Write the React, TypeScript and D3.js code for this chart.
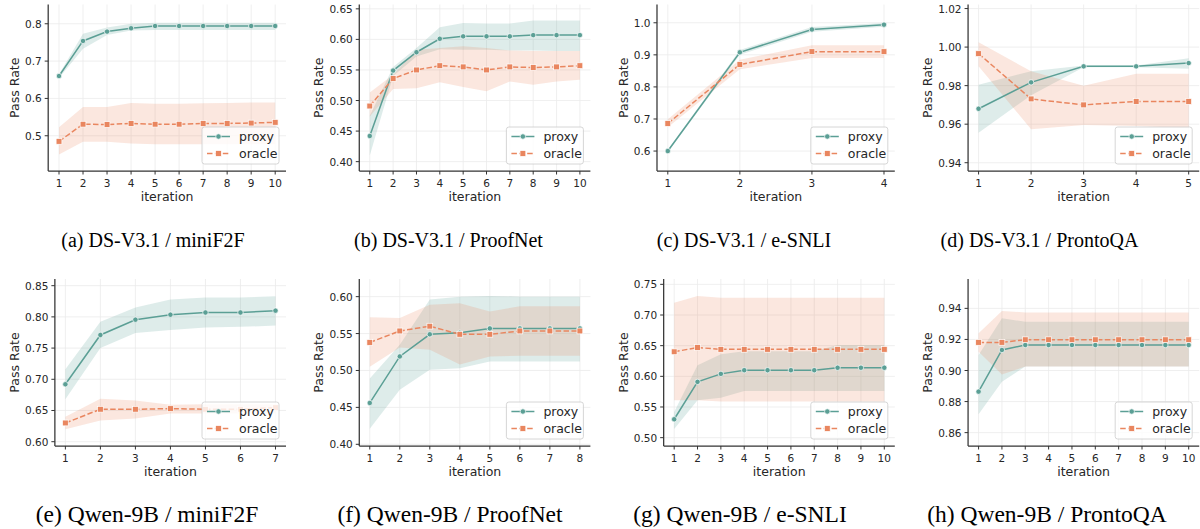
import React from 'react';
import * as d3 from 'd3';

const TEAL = '#5b9f95';
const ORANGE = '#e9865f';

// (a) DS-V3.1 / miniF2F
const aIter = [1, 2, 3, 4, 5, 6, 7, 8, 9, 10];
const aProxy = [0.660, 0.754, 0.779, 0.788, 0.794, 0.794, 0.794, 0.794, 0.794, 0.794];
const aProxyLo = [0.655, 0.733, 0.770, 0.782, 0.783, 0.783, 0.783, 0.783, 0.783, 0.783];
const aProxyHi = [0.665, 0.773, 0.790, 0.800, 0.803, 0.803, 0.803, 0.803, 0.803, 0.803];
const aOracle = [0.485, 0.531, 0.530, 0.533, 0.531, 0.531, 0.533, 0.533, 0.534, 0.536];
const aOracleLo = [0.450, 0.484, 0.484, 0.479, 0.477, 0.477, 0.477, 0.477, 0.477, 0.477];
const aOracleHi = [0.523, 0.577, 0.577, 0.588, 0.586, 0.586, 0.587, 0.588, 0.589, 0.589];
const aYLim = [0.4056, 0.8516];
const aYTicks = [0.5, 0.6, 0.7, 0.8];

// (b) DS-V3.1 / ProofNet
const bIter = [1, 2, 3, 4, 5, 6, 7, 8, 9, 10];
const bProxy = [0.442, 0.549, 0.579, 0.601, 0.605, 0.605, 0.605, 0.607, 0.607, 0.607];
const bProxyLo = [0.410, 0.540, 0.572, 0.584, 0.583, 0.583, 0.582, 0.582, 0.581, 0.581];
const bProxyHi = [0.475, 0.555, 0.586, 0.620, 0.627, 0.626, 0.626, 0.631, 0.631, 0.631];
const bOracle = [0.491, 0.536, 0.550, 0.557, 0.555, 0.550, 0.555, 0.554, 0.555, 0.557];
const bOracleLo = [0.474, 0.519, 0.520, 0.530, 0.522, 0.515, 0.531, 0.526, 0.531, 0.534];
const bOracleHi = [0.513, 0.542, 0.583, 0.586, 0.589, 0.586, 0.582, 0.581, 0.581, 0.581];
const bYLim = [0.3847, 0.6571];
const bYTicks = [0.40, 0.45, 0.50, 0.55, 0.60, 0.65];

// (c) DS-V3.1 / e-SNLI
const cIter = [1, 2, 3, 4];
const cProxy = [0.600, 0.908, 0.979, 0.994];
const cProxyLo = [0.596, 0.900, 0.972, 0.988];
const cProxyHi = [0.604, 0.915, 0.987, 0.999];
const cOracle = [0.686, 0.870, 0.910, 0.910];
const cOracleLo = [0.674, 0.855, 0.890, 0.890];
const cOracleHi = [0.699, 0.885, 0.930, 0.930];
const cYLim = [0.5378, 1.057];
const cYTicks = [0.6, 0.7, 0.8, 0.9, 1.0];

// (d) DS-V3.1 / ProntoQA
const dIter = [1, 2, 3, 4, 5];
const dProxy = [0.968, 0.9817, 0.990, 0.990, 0.9917];
const dProxyLo = [0.9556, 0.975, 0.9895, 0.9895, 0.9888];
const dProxyHi = [0.9804, 0.9875, 0.9905, 0.9905, 0.9942];
const dOracle = [0.9966, 0.9731, 0.970, 0.9718, 0.9718];
const dOracleLo = [0.990, 0.9574, 0.9596, 0.9591, 0.9579];
const dOracleHi = [1.0025, 0.9874, 0.980, 0.9862, 0.9862];
const dYLim = [0.9357, 1.0221];
const dYTicks = [0.94, 0.96, 0.98, 1.00, 1.02];

// (e) Qwen-9B / miniF2F
const eIter = [1, 2, 3, 4, 5, 6, 7];
const eProxy = [0.692, 0.771, 0.7955, 0.8035, 0.807, 0.807, 0.810];
const eProxyLo = [0.668, 0.750, 0.774, 0.779, 0.783, 0.784, 0.786];
const eProxyHi = [0.716, 0.792, 0.815, 0.828, 0.831, 0.831, 0.833];
const eOracle = [0.630, 0.652, 0.652, 0.653, 0.652, 0.652, 0.6545];
const eOracleLo = [0.620, 0.634, 0.637, 0.645, 0.645, 0.645, 0.645];
const eOracleHi = [0.640, 0.669, 0.666, 0.659, 0.660, 0.660, 0.660];
const eYLim = [0.5931, 0.8607];
const eYTicks = [0.60, 0.65, 0.70, 0.75, 0.80, 0.85];

// (f) Qwen-9B / ProofNet
const fIter = [1, 2, 3, 4, 5, 6, 7, 8];
const fProxy = [0.456, 0.519, 0.549, 0.551, 0.557, 0.557, 0.557, 0.557];
const fProxyLo = [0.421, 0.474, 0.501, 0.503, 0.512, 0.512, 0.512, 0.512];
const fProxyHi = [0.489, 0.535, 0.596, 0.600, 0.601, 0.600, 0.600, 0.600];
const fOracle = [0.538, 0.5535, 0.560, 0.549, 0.549, 0.5535, 0.5535, 0.5535];
const fOracleLo = [0.505, 0.531, 0.528, 0.508, 0.519, 0.520, 0.520, 0.520];
const fOracleHi = [0.572, 0.571, 0.589, 0.591, 0.580, 0.587, 0.587, 0.587];
const fYLim = [0.3977, 0.6239];
const fYTicks = [0.40, 0.45, 0.50, 0.55, 0.60];

// (g) Qwen-9B / e-SNLI
const gIter = [1, 2, 3, 4, 5, 6, 7, 8, 9, 10];
const gProxy = [0.530, 0.591, 0.604, 0.610, 0.610, 0.610, 0.610, 0.614, 0.614, 0.614];
const gProxyLo = [0.514, 0.561, 0.565, 0.576, 0.576, 0.576, 0.576, 0.576, 0.576, 0.576];
const gProxyHi = [0.542, 0.618, 0.636, 0.641, 0.641, 0.641, 0.641, 0.651, 0.651, 0.651];
const gOracle = [0.640, 0.647, 0.644, 0.644, 0.644, 0.644, 0.644, 0.644, 0.644, 0.644];
const gOracleLo = [0.561, 0.561, 0.559, 0.559, 0.559, 0.559, 0.559, 0.559, 0.559, 0.559];
const gOracleHi = [0.720, 0.731, 0.728, 0.728, 0.728, 0.728, 0.728, 0.728, 0.728, 0.728];
const gYLim = [0.4864, 0.7587];
const gYTicks = [0.50, 0.55, 0.60, 0.65, 0.70, 0.75];

// (h) Qwen-9B / ProntoQA
const hIter = [1, 2, 3, 4, 5, 6, 7, 8, 9, 10];
const hProxy = [0.8864, 0.9132, 0.9164, 0.9164, 0.9164, 0.9164, 0.9164, 0.9164, 0.9164, 0.9164];
const hProxyLo = [0.8718, 0.8928, 0.9025, 0.9025, 0.9025, 0.9025, 0.9025, 0.9025, 0.9025, 0.9025];
const hProxyHi = [0.910, 0.9336, 0.9314, 0.9314, 0.9314, 0.9314, 0.9314, 0.9314, 0.9314, 0.9314];
const hOracle = [0.9181, 0.9181, 0.9198, 0.9198, 0.9198, 0.9198, 0.9198, 0.9198, 0.9198, 0.9198];
const hOracleLo = [0.9121, 0.8975, 0.9025, 0.9025, 0.9025, 0.9025, 0.9025, 0.9025, 0.9025, 0.9025];
const hOracleHi = [0.9239, 0.9383, 0.9374, 0.9374, 0.9374, 0.9374, 0.9374, 0.9374, 0.9374, 0.9374];
const hYLim = [0.8514, 0.9589];
const hYTicks = [0.86, 0.88, 0.90, 0.92, 0.94];

const captions = [
  '(a) DS-V3.1 / miniF2F', '(b) DS-V3.1 / ProofNet', '(c) DS-V3.1 / e-SNLI', '(d) DS-V3.1 / ProntoQA',
  '(e) Qwen-9B / miniF2F', '(f) Qwen-9B / ProofNet', '(g) Qwen-9B / e-SNLI', '(h) Qwen-9B / ProntoQA',
];

const panels = [
  { iter: aIter, proxy: aProxy, proxyLo: aProxyLo, proxyHi: aProxyHi, oracle: aOracle, oracleLo: aOracleLo, oracleHi: aOracleHi, yLim: aYLim, yTicks: aYTicks, dec: 1 },
  { iter: bIter, proxy: bProxy, proxyLo: bProxyLo, proxyHi: bProxyHi, oracle: bOracle, oracleLo: bOracleLo, oracleHi: bOracleHi, yLim: bYLim, yTicks: bYTicks, dec: 2 },
  { iter: cIter, proxy: cProxy, proxyLo: cProxyLo, proxyHi: cProxyHi, oracle: cOracle, oracleLo: cOracleLo, oracleHi: cOracleHi, yLim: cYLim, yTicks: cYTicks, dec: 1 },
  { iter: dIter, proxy: dProxy, proxyLo: dProxyLo, proxyHi: dProxyHi, oracle: dOracle, oracleLo: dOracleLo, oracleHi: dOracleHi, yLim: dYLim, yTicks: dYTicks, dec: 2 },
  { iter: eIter, proxy: eProxy, proxyLo: eProxyLo, proxyHi: eProxyHi, oracle: eOracle, oracleLo: eOracleLo, oracleHi: eOracleHi, yLim: eYLim, yTicks: eYTicks, dec: 2 },
  { iter: fIter, proxy: fProxy, proxyLo: fProxyLo, proxyHi: fProxyHi, oracle: fOracle, oracleLo: fOracleLo, oracleHi: fOracleHi, yLim: fYLim, yTicks: fYTicks, dec: 2 },
  { iter: gIter, proxy: gProxy, proxyLo: gProxyLo, proxyHi: gProxyHi, oracle: gOracle, oracleLo: gOracleLo, oracleHi: gOracleHi, yLim: gYLim, yTicks: gYTicks, dec: 2 },
  { iter: hIter, proxy: hProxy, proxyLo: hProxyLo, proxyHi: hProxyHi, oracle: hOracle, oracleLo: hOracleLo, oracleHi: hOracleHi, yLim: hYLim, yTicks: hYTicks, dec: 2 },
];

const TICK_FS = 10.5;
const LABEL_FS = 12.5;
const SANS = '"DejaVu Sans", sans-serif';
const SERIF = '"Liberation Serif", "Times New Roman", serif';
const INK = '#262626';

// caption placement per row
const capX = [[153, 448.5, 744, 1039.5], [147, 450, 740, 1047]];
const capY = [247, 522];
const capFS = [20, 23.5];

// rough DejaVu Sans width of a tick label
function labelWidth(s: string) {
  let w = 0;
  for (const ch of s) w += ch === '.' ? 0.318 : 0.636;
  return w * TICK_FS;
}

function Chart({ p, idx }: { p: any; idx: number }) {
  const col = idx % 4;
  const row = Math.floor(idx / 4);
  const top = row === 0 ? 4.5 : 279;
  const bottom = row === 0 ? 171 : 446;
  const right = 286 + 304.4 * col;
  const fmt = d3.format(`.${p.dec}f`);
  const yLabels = p.yTicks.map(fmt);
  const tw = d3.max(yLabels.map(labelWidth)) as number;
  const left = right - 254.5 + tw;

  const n = p.iter.length;
  const pad = 0.05 * (n - 1);
  const x = d3.scaleLinear().domain([1 - pad, n + pad]).range([left, right]);
  const y = d3.scaleLinear().domain(p.yLim).range([bottom, top]);

  const band = (lo: number[], hi: number[]) =>
    d3.area<number>().x((d) => x(d)).y0((_, i) => y(lo[i])).y1((_, i) => y(hi[i]))(p.iter) || '';
  const line = (v: number[]) => d3.line<number>().x((d) => x(d)).y((_, i) => y(v[i]))(p.iter) || '';

  const lx = right - 7 - 77;
  const ly = bottom - 7 - 37;

  return (
    <g>
      {p.iter.map((t: number) => (
        <line key={'gx' + t} x1={x(t)} x2={x(t)} y1={top} y2={bottom} stroke="#ebebeb" strokeWidth={0.8} />
      ))}
      {p.yTicks.map((t: number) => (
        <line key={'gy' + t} x1={left} x2={right} y1={y(t)} y2={y(t)} stroke="#ebebeb" strokeWidth={0.8} />
      ))}
      <path d={band(p.proxyLo, p.proxyHi)} fill={TEAL} fillOpacity={0.2} />
      <path d={band(p.oracleLo, p.oracleHi)} fill={ORANGE} fillOpacity={0.2} />
      <path d={line(p.proxy)} fill="none" stroke={TEAL} strokeWidth={1.5} />
      {p.iter.map((t: number, i: number) => (
        <circle key={'pc' + t} cx={x(t)} cy={y(p.proxy[i])} r={2.7} fill={TEAL} stroke="#fff" strokeWidth={0.7} />
      ))}
      <path d={line(p.oracle)} fill="none" stroke={ORANGE} strokeWidth={1.5} strokeDasharray="5.5,2.4" />
      {p.iter.map((t: number, i: number) => (
        <rect key={'os' + t} x={x(t) - 2.9} y={y(p.oracle[i]) - 2.9} width={5.8} height={5.8} fill={ORANGE} stroke="#fff" strokeWidth={0.7} />
      ))}

      {/* spines */}
      <line x1={left} x2={left} y1={top} y2={bottom} stroke="#333" strokeWidth={1.25} />
      <line x1={left} x2={right} y1={bottom} y2={bottom} stroke="#333" strokeWidth={1.25} />

      {p.iter.map((t: number) => (
        <g key={'xt' + t}>
          <line x1={x(t)} x2={x(t)} y1={bottom} y2={bottom + 3.5} stroke="#333" strokeWidth={1} />
          <text x={x(t)} y={bottom + 11.5} textAnchor="middle" dominantBaseline="central" fontSize={TICK_FS} fontFamily={SANS} fill={INK}>{t}</text>
        </g>
      ))}
      {p.yTicks.map((t: number, i: number) => (
        <g key={'yt' + t}>
          <line x1={left - 3.5} x2={left} y1={y(t)} y2={y(t)} stroke="#333" strokeWidth={1} />
          <text x={left - 6.5} y={y(t)} textAnchor="end" dominantBaseline="central" fontSize={TICK_FS} fontFamily={SANS} fill={INK}>{yLabels[i]}</text>
        </g>
      ))}

      <text x={(left + right) / 2} y={bottom + 25.7} textAnchor="middle" dominantBaseline="central" fontSize={LABEL_FS} fontFamily={SANS} fill={INK}>iteration</text>
      <text transform={`translate(${left - 7 - tw - 10},${(top + bottom) / 2}) rotate(-90)`} textAnchor="middle" dominantBaseline="central" fontSize={LABEL_FS} fontFamily={SANS} fill={INK}>Pass Rate</text>

      {/* legend */}
      <rect x={lx} y={ly} width={77} height={37} rx={2.5} fill="#fff" fillOpacity={0.8} stroke="#cccccc" strokeWidth={0.8} />
      <line x1={lx + 5} x2={lx + 28} y1={ly + 9.5} y2={ly + 9.5} stroke={TEAL} strokeWidth={1.5} />
      <circle cx={lx + 16.5} cy={ly + 9.5} r={2.7} fill={TEAL} stroke="#fff" strokeWidth={0.7} />
      <text x={lx + 37} y={ly + 9.5} dominantBaseline="central" fontSize={LABEL_FS} fontFamily={SANS} fill={INK}>proxy</text>
      <line x1={lx + 5} x2={lx + 28} y1={ly + 26.5} y2={ly + 26.5} stroke={ORANGE} strokeWidth={1.5} strokeDasharray="5.5,2.4" />
      <rect x={lx + 13.6} y={ly + 23.6} width={5.8} height={5.8} fill={ORANGE} stroke="#fff" strokeWidth={0.7} />
      <text x={lx + 37} y={ly + 26.5} dominantBaseline="central" fontSize={LABEL_FS} fontFamily={SANS} fill={INK}>oracle</text>

      <text x={capX[row][col]} y={capY[row]} textAnchor="middle" fontSize={capFS[row]} fontFamily={SERIF} fill="#000">{captions[idx]}</text>
    </g>
  );
}

export default function App() {
  return (
    <svg width={1200} height={529} style={{ position: 'absolute', left: 0, top: 0, background: '#fff' }}>
      {panels.map((p, i) => (
        <Chart key={i} p={p} idx={i} />
      ))}
    </svg>
  );
}
